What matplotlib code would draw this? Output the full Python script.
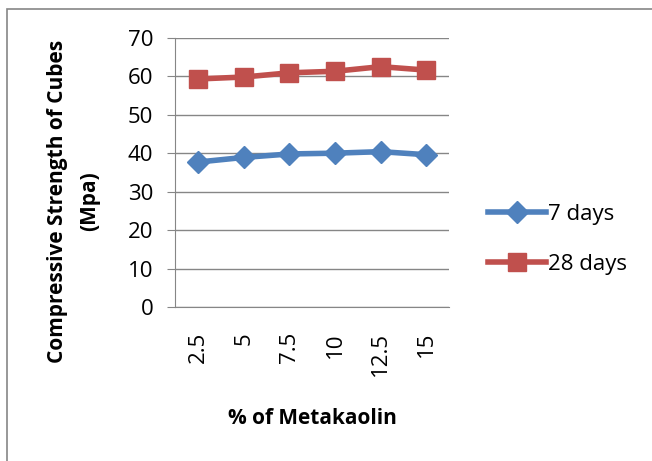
import matplotlib
matplotlib.use("Agg")
import matplotlib.pyplot as plt
from matplotlib.patches import Rectangle

plt.rcParams["font.family"] = ["Open Sans", "DejaVu Sans"]

# data
metakaolin = ["2.5", "5", "7.5", "10", "12.5", "15"]
days_7 = [37.7, 38.9, 39.8, 40.0, 40.4, 39.6]
days_28 = [59.3, 59.8, 60.9, 61.3, 62.5, 61.6]

fig = plt.figure(figsize=(6.52, 4.61), dpi=100)
ax = fig.add_axes([0.269, 0.334, 0.42, 0.584])

x = range(len(metakaolin))
ax.plot(x, days_7, color="#4F81BD", lw=4, marker="D", markersize=11,
        label="7 days", zorder=3)
ax.plot(x, days_28, color="#C0504D", lw=4, marker="s", markersize=13,
        label="28 days", zorder=3)

ax.set_ylim(0, 70)
ax.set_yticks(range(0, 71, 10))
ax.set_xlim(-0.5, len(metakaolin) - 0.5)
ax.set_xticks(list(x))
ax.set_xticklabels(metakaolin, rotation=90)
ax.tick_params(axis="both", labelsize=16, length=0, pad=18)
ax.tick_params(axis="y", length=6, color="#868686", direction="out", pad=10)
ax.grid(True, axis="y", color="#868686", lw=1)
ax.set_axisbelow(True)

for side in ["top", "right"]:
    ax.spines[side].set_visible(False)
for side in ["left", "bottom"]:
    ax.spines[side].set_color("#868686")

ax.set_xlabel("% of Metakaolin", fontsize=15, fontweight="bold")
ax.xaxis.set_label_coords(0.5, -0.375)
ax.set_ylabel("Compressive Strength of Cubes\n(Mpa)", fontsize=15,
              fontweight="bold", linespacing=1.7)
ax.yaxis.set_label_coords(-0.275, 0.394)

ax.legend(loc="center left", bbox_to_anchor=(1.07, 0.25), frameon=False,
          fontsize=16, handlelength=2.6, labelspacing=1.3, handletextpad=0.1)

# outer chart border (right and bottom edges fall outside the image)
fig.patches.append(Rectangle((0.011, -0.01), 1.0, 0.99, transform=fig.transFigure,
                             fill=False, edgecolor="#868686", lw=1.2))

fig.savefig("out.png", dpi=100)
